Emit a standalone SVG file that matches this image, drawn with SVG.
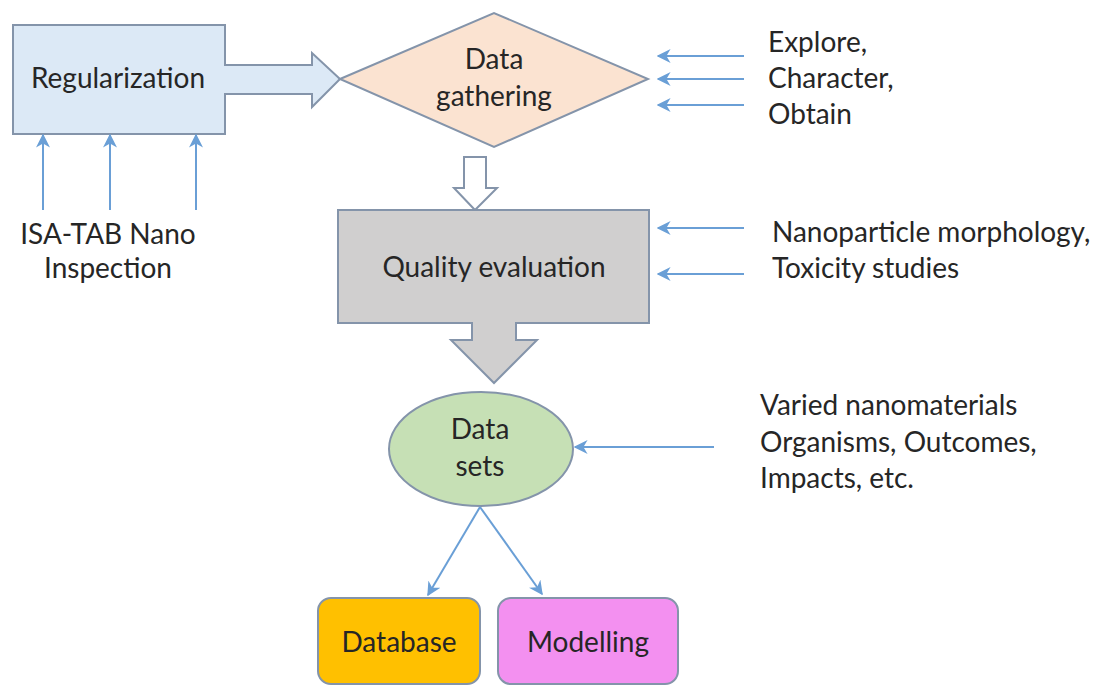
<svg xmlns="http://www.w3.org/2000/svg" width="1098" height="685" viewBox="0 0 1098 685">
<style>
text{font-family:Lato,"Liberation Sans",sans-serif;font-size:28px;fill:#262626}
.c{text-anchor:middle}
.shape{stroke:#8494aa;stroke-width:2}
.conn{stroke:#6a9fd6;stroke-width:2;fill:none;marker-end:url(#ah)}
</style>
<defs>
<marker id="ah" viewBox="0 0 10 10" refX="9" refY="5" markerWidth="7" markerHeight="7" markerUnits="strokeWidth" orient="auto">
<path d="M0,0 L10,5 L0,10 L3,5 Z" fill="#6a9fd6"/>
</marker>
</defs>
<rect width="1098" height="685" fill="#ffffff"/>
<g id="regularization">
<path class="shape" d="M13,25 H225 V65 H312 V53 L340,79 L312,107 V94 H225 V134 H13 Z" fill="#dce9f6"/>
<text x="118" y="88" class="c">Regularization</text>
</g>
<g id="data-gathering">
<path class="shape" d="M340,79 L494,13 L648,79 L494,147 Z" fill="#fbe3d1"/>
<text x="494" y="69" class="c">Data</text>
<text x="494" y="106" class="c">gathering</text>
</g>
<g id="hollow-arrow">
<path class="shape" d="M464,157 H486 V188 H497 L475,210 L454,188 H464 Z" fill="#ffffff"/>
</g>
<g id="quality-evaluation">
<path class="shape" d="M338,210 H649 V323 H516 V340 H537 L494,383 L451,340 H472 V323 H338 Z" fill="#d0cfcf"/>
<text x="494" y="277" class="c">Quality evaluation</text>
</g>
<g id="data-sets">
<ellipse class="shape" cx="481" cy="449" rx="92" ry="57" fill="#c6e0b5"/>
<text x="480" y="439" class="c">Data</text>
<text x="480" y="476" class="c">sets</text>
</g>
<g id="database">
<rect class="shape" x="318" y="598" width="162" height="86" rx="13" fill="#ffc000"/>
<text x="399" y="652" class="c">Database</text>
</g>
<g id="modelling">
<rect class="shape" x="498" y="598" width="180" height="86" rx="13" fill="#f390f0"/>
<text x="588" y="652" class="c">Modelling</text>
</g>
<g id="labels">
<text x="108" y="244" class="c">ISA-TAB Nano</text>
<text x="108" y="278" class="c">Inspection</text>
<text x="768" y="52">Explore,</text>
<text x="768" y="88">Character,</text>
<text x="768" y="124">Obtain</text>
<text x="772" y="242">Nanoparticle morphology,</text>
<text x="772" y="278">Toxicity studies</text>
<text x="760" y="415">Varied nanomaterials</text>
<text x="760" y="452">Organisms, Outcomes,</text>
<text x="760" y="488">Impacts, etc.</text>
</g>
<g id="connectors">
<line class="conn" x1="43" y1="210" x2="43" y2="135"/>
<line class="conn" x1="110" y1="210" x2="110" y2="135"/>
<line class="conn" x1="196" y1="210" x2="196" y2="135"/>
<line class="conn" x1="744" y1="56" x2="658" y2="56"/>
<line class="conn" x1="744" y1="79" x2="658" y2="79"/>
<line class="conn" x1="744" y1="105" x2="658" y2="105"/>
<line class="conn" x1="744" y1="228" x2="658" y2="228"/>
<line class="conn" x1="744" y1="274" x2="658" y2="274"/>
<line class="conn" x1="714" y1="447" x2="575" y2="447"/>
<line class="conn" x1="480" y1="507" x2="428" y2="595"/>
<line class="conn" x1="480" y1="507" x2="542" y2="594"/>
</g>
</svg>
